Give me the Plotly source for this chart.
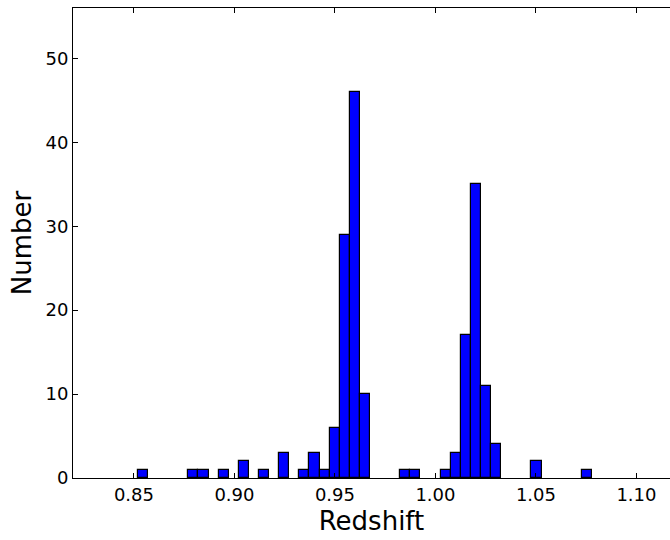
import plotly.graph_objects as go

# Histogram of galaxy redshifts: 45 equal-width bins
bin_start = 0.852
bin_width = 0.00502
counts = [
    1, 0, 0, 0, 0, 1, 1, 0, 1, 0,
    2, 0, 1, 0, 3, 0, 1, 3, 1, 6,
    29, 46, 10, 0, 0, 0, 1, 1, 0, 0,
    1, 3, 17, 35, 11, 4, 0, 0, 0, 2,
    0, 0, 0, 0, 1,
]
x_ticks = [0.85, 0.90, 0.95, 1.00, 1.05, 1.10]
x_tick_text = ["0.85", "0.90", "0.95", "1.00", "1.05", "1.10"]
y_ticks = [0, 10, 20, 30, 40, 50]

# empty bins are left undrawn so no outline appears on the baseline
centers = [bin_start + bin_width * (i + 0.5) for i, c in enumerate(counts) if c > 0]
heights = [c for c in counts if c > 0]

fig = go.Figure(
    go.Bar(
        x=centers,
        y=heights,
        width=[bin_width] * len(heights),
        marker=dict(color="#0000ff", line=dict(color="black", width=1.2)),
        hoverinfo="x+y",
    )
)

font = "DejaVu Sans, Liberation Sans, sans-serif"
fig.update_layout(
    width=670,
    height=540,
    margin=dict(l=73, r=0, t=8, b=62),
    plot_bgcolor="white",
    paper_bgcolor="white",
    showlegend=False,
    font=dict(family=font, color="black", size=18),
    bargap=0,
)
fig.update_xaxes(
    range=[0.8197, 1.1167],
    tickvals=x_ticks,
    ticktext=x_tick_text,
    ticks="inside",
    ticklen=5,
    tickwidth=1,
    tickcolor="black",
    showline=True,
    linecolor="black",
    linewidth=1,
    mirror="ticks",
    showgrid=False,
    zeroline=False,
    title=dict(text="Redshift", font=dict(size=26, family=font), standoff=8),
    tickfont=dict(size=18, family=font),
)
fig.update_yaxes(
    range=[0, 56],
    tickvals=y_ticks,
    ticks="inside",
    ticklen=5,
    tickwidth=1,
    tickcolor="black",
    showline=True,
    linecolor="black",
    linewidth=1,
    mirror=False,
    showgrid=False,
    zeroline=False,
    title=dict(text="Number", font=dict(size=26, family=font), standoff=6),
    tickfont=dict(size=18, family=font),
)

fig.write_html("out.html")
